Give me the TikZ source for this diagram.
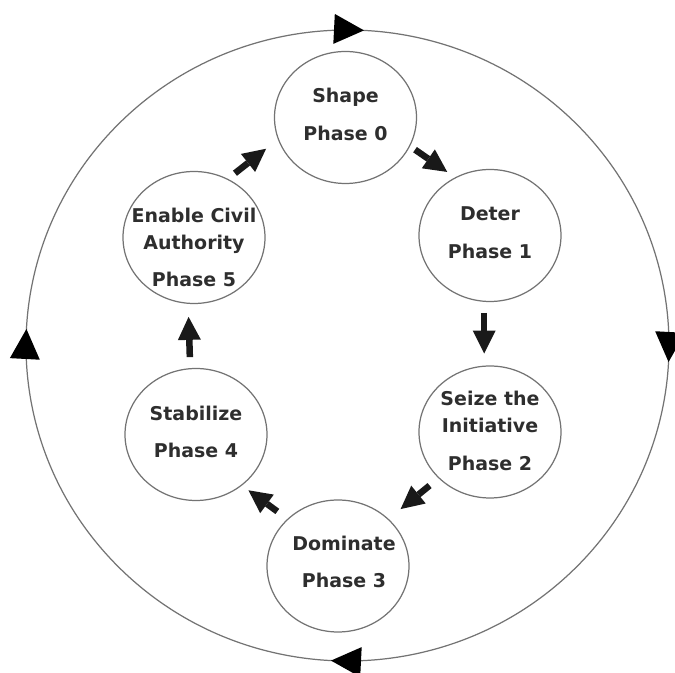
\documentclass[tikz,border=0pt]{standalone}
\usepackage{fontspec}
\setmainfont{DejaVu Sans}
\usetikzlibrary{arrows.meta,shapes.geometric,decorations.markings}

\begin{document}
\begin{tikzpicture}[>=Latex,
  phase/.style={ellipse, draw=black!55, line width=0.7pt, minimum width=2.84cm, minimum height=2.64cm, inner sep=0pt},
  lbl/.style={align=center, inner sep=0pt, text=black!82, font=\fontsize{10.8}{15.3}\selectfont\bfseries},
  flow/.style={-{Triangle[length=0.46cm,width=0.46cm,line width=0pt]}, line width=0.13cm, black!90},
  cyctip/.tip={Triangle[length=0.6cm,width=0.6cm,line width=0pt]}]
\useasboundingbox (-6.95,-6.55) rectangle (6.55,6.91);

% outer cycle
\draw[draw=black!55, line width=0.7pt, postaction={decorate},
  decoration={markings,
    mark=at position 0.1325 with {\arrow[black]{cyctip}},
    mark=at position 0.3825 with {\arrow[black]{cyctip}},
    mark=at position 0.6325 with {\arrow[black]{cyctip}},
    mark=at position 0.8825 with {\arrow[black]{cyctip}}}]
  (45:6.43 and 6.31) arc[start angle=45, end angle=-315, x radius=6.43, y radius=6.31];

% phases
\node[phase, label={[lbl, yshift=0.06cm]center:Shape\\[6.2pt]Phase 0}] (shape) at (-0.04,4.56) {};
\node[phase, label={[lbl, yshift=0.06cm]center:Deter\\[6.2pt]Phase 1}] (deter) at (2.85,2.20) {};
\node[phase, label={[lbl, yshift=0.02cm]center:Seize the\\Initiative\\[6.2pt]Phase 2}] (seize) at (2.85,-1.73) {};
\node[phase, label={[lbl, yshift=0.08cm, xshift=0.12cm]center:Dominate\\[6.2pt]Phase 3}] (dominate) at (-0.19,-4.41) {};
\node[phase, label={[lbl, yshift=0.05cm]center:Stabilize\\[6.2pt]Phase 4}] (stabilize) at (-3.03,-1.78) {};
\node[phase, label={[lbl, yshift=-0.2cm]center:Enable Civil\\Authority\\[6.2pt]Phase 5}] (enable) at (-3.07,2.16) {};

\draw[flow, shorten <=0.12cm, shorten >=0.19cm] (shape.-24) -- (deter.121);
\draw[flow, shorten <=0.22cm, shorten >=0.24cm] (deter.-95) -- (seize.95);
\draw[flow, shorten <=0.23cm, shorten >=0.31cm] (seize.222) -- (dominate.43);
\draw[flow, shorten <=0.25cm, shorten >=0.16cm] (dominate.137) -- (stabilize.-48);
\draw[flow, shorten <=0.22cm, shorten >=0.26cm] (stabilize.95) -- (enable.-95);
\draw[flow, shorten <=0.18cm, shorten >=0.30cm] (enable.60) -- (shape.198);
\end{tikzpicture}
\end{document}
